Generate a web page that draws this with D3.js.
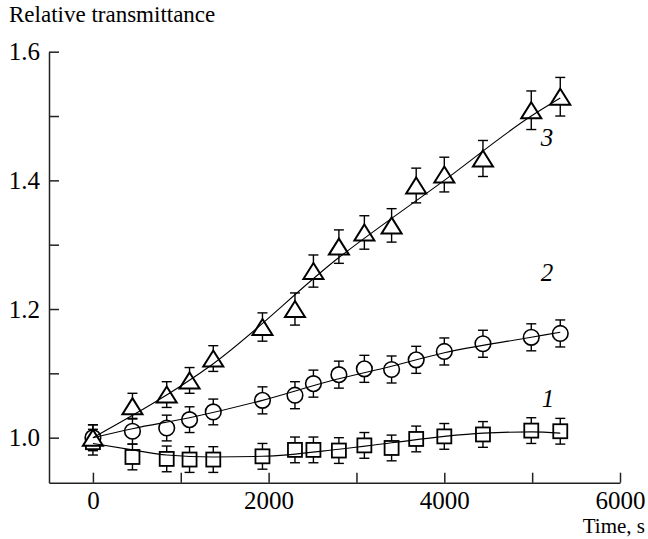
<!DOCTYPE html>
<html>
<head>
<meta charset="utf-8">
<script src="https://cdn.jsdelivr.net/npm/d3@7"></script>
<style>
body { margin: 0; background: #fff; }
svg text { font-family: "Liberation Serif", "Times New Roman", serif; fill: #000; }
</style>
</head>
<body>
<svg width="648" height="539"></svg>
<script>
// measured times (s)
var times = [0, 450, 840, 1100, 1370, 1930, 2300, 2510, 2800, 3090, 3400, 3680, 4000, 4440, 4990, 5320];

// series values (relative transmittance)
var sq   = [0.993, 0.970, 0.967, 0.966, 0.966, 0.971, 0.981, 0.981, 0.980, 0.988, 0.984, 0.998, 1.002, 1.005, 1.011, 1.010];
var circ = [1.000, 1.010, 1.015, 1.028, 1.040, 1.058, 1.066, 1.084, 1.098, 1.107, 1.106, 1.121, 1.134, 1.146, 1.156, 1.162];
var tri  = [1.000, 1.049, 1.067, 1.089, 1.123, 1.172, 1.200, 1.259, 1.297, 1.319, 1.330, 1.392, 1.409, 1.434, 1.509, 1.530];

// error bar half-widths
var sqErr   = [0.02, 0.02, 0.02, 0.02, 0.02, 0.02, 0.02, 0.02, 0.02, 0.02, 0.02, 0.02, 0.02, 0.02, 0.02, 0.02];
var circErr = [0.02, 0.02, 0.02, 0.02, 0.02, 0.021, 0.021, 0.021, 0.021, 0.021, 0.021, 0.021, 0.021, 0.021, 0.021, 0.021];
var triErr  = [0.02, 0.02, 0.02, 0.02, 0.02, 0.022, 0.025, 0.025, 0.026, 0.026, 0.026, 0.027, 0.027, 0.028, 0.03, 0.03];

// fitted curves
var fit1T = [0, 450, 840, 1370, 1930, 2800, 3400, 4000, 4440, 4990, 5320];
var fit1V = [0.991, 0.981, 0.973, 0.970, 0.971, 0.982, 0.992, 1.002, 1.007, 1.009, 1.007];
var fit2T = [0, 450, 1100, 1930, 2700, 3400, 4000, 4990, 5320];
var fit2V = [1.0, 1.014, 1.031, 1.058, 1.088, 1.111, 1.132, 1.156, 1.164];
var fit3T = [0, 1370, 2800, 4000, 4990, 5320];
var fit3V = [1.0, 1.115, 1.28, 1.40, 1.50, 1.528];

// curve labels
var labelText = ["1", "2", "3"];
var labelT = [5180, 5170, 5170];
var labelV = [1.062, 1.257, 1.467];

var xTicks = [0, 1000, 2000, 3000, 4000, 5000, 6000];
var xLabels = [0, 2000, 4000, 6000];
var yTicks = [1.0, 1.1, 1.2, 1.3, 1.4, 1.5, 1.6];
var yLabels = [1.0, 1.2, 1.4, 1.6];

var svg = d3.select("svg");

var x = d3.scaleLinear().domain([-500, 6000]).range([49, 620]);
var y = d3.scaleLinear().domain([0.93, 1.6]).range([482.7, 51.7]);

var xAxis = svg.append("g")
	.attr("transform", "translate(0," + y(0.93) + ")")
	.call(d3.axisBottom(x)
		.tickValues(xTicks)
		.tickSizeInner(-10)
		.tickSizeOuter(0)
		.tickPadding(9)
		.tickFormat(function(d) { return xLabels.indexOf(d) >= 0 ? d : ""; }));

var yAxis = svg.append("g")
	.attr("transform", "translate(" + x(-500) + ",0)")
	.call(d3.axisLeft(y)
		.tickValues(yTicks)
		.tickSizeInner(-10)
		.tickSizeOuter(0)
		.tickPadding(9)
		.tickFormat(function(d) { return yLabels.some(function(v) { return Math.abs(v - d) < 1e-9; }) ? d3.format(".1f")(d) : ""; }));

[xAxis, yAxis].forEach(function(a) {
	a.selectAll("path, line").attr("stroke", "#222").attr("stroke-width", 1.5);
	a.selectAll("text").attr("font-size", 25).attr("font-family", "Liberation Serif, serif").attr("fill", "#000");
});

svg.append("text")
	.attr("x", 9)
	.attr("y", 22)
	.attr("font-size", 23)
	.text("Relative transmittance");

svg.append("text")
	.attr("x", 645)
	.attr("y", 533)
	.attr("text-anchor", "end")
	.attr("font-size", 21)
	.text("Time, s");

function pts(vals) {
	return times.map(function(t, i) { return {t: t, v: vals[i]}; });
}

function errorBars(vals, errs) {
	var g = svg.append("g").attr("stroke", "#000").attr("stroke-width", 1.4).attr("fill", "none");
	times.forEach(function(t, i) {
		var cx = x(t), top = y(vals[i] + errs[i]), bot = y(vals[i] - errs[i]);
		g.append("line").attr("x1", cx).attr("x2", cx).attr("y1", top).attr("y2", bot);
		g.append("line").attr("x1", cx - 5).attr("x2", cx + 5).attr("y1", top).attr("y2", top);
		g.append("line").attr("x1", cx - 5).attr("x2", cx + 5).attr("y1", bot).attr("y2", bot);
	});
}

function fitLine(ts, vs) {
	var data = ts.map(function(t, i) { return {t: t, v: vs[i]}; });
	svg.append("path")
		.datum(data)
		.attr("fill", "none")
		.attr("stroke", "#000")
		.attr("stroke-width", 1.1)
		.attr("d", d3.line()
			.x(function(d) { return x(d.t); })
			.y(function(d) { return y(d.v); })
			.curve(d3.curveMonotoneX));
}

errorBars(sq, sqErr);
errorBars(circ, circErr);
errorBars(tri, triErr);

// squares
svg.append("g").selectAll("rect")
	.data(pts(sq))
	.enter().append("rect")
	.attr("x", function(d) { return x(d.t) - 7; })
	.attr("y", function(d) { return y(d.v) - 7; })
	.attr("width", 14)
	.attr("height", 14)
	.attr("fill", "#fff")
	.attr("stroke", "#000")
	.attr("stroke-width", 1.8);

// circles
svg.append("g").selectAll("circle")
	.data(pts(circ))
	.enter().append("circle")
	.attr("cx", function(d) { return x(d.t); })
	.attr("cy", function(d) { return y(d.v); })
	.attr("r", 7.8)
	.attr("fill", "#fff")
	.attr("stroke", "#000")
	.attr("stroke-width", 1.6);

// triangles
svg.append("g").selectAll("path")
	.data(pts(tri))
	.enter().append("path")
	.attr("transform", function(d) { return "translate(" + x(d.t) + "," + y(d.v) + ")"; })
	.attr("d", "M0,-8L10,8L-10,8Z")
	.attr("fill", "#fff")
	.attr("stroke", "#000")
	.attr("stroke-width", 2)
	.attr("stroke-linejoin", "miter");

fitLine(fit1T, fit1V);
fitLine(fit2T, fit2V);
fitLine(fit3T, fit3V);

svg.append("g").selectAll("text")
	.data(labelText)
	.enter().append("text")
	.attr("x", function(d, i) { return x(labelT[i]); })
	.attr("y", function(d, i) { return y(labelV[i]); })
	.attr("dy", "0.35em")
	.attr("text-anchor", "middle")
	.attr("font-size", 25)
	.attr("font-style", "italic")
	.text(function(d) { return d; });
</script>
</body>
</html>
